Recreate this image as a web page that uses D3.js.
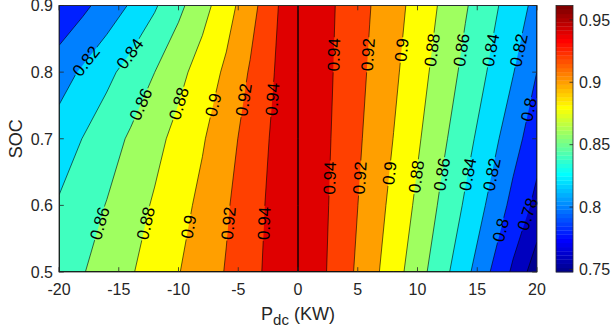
<!DOCTYPE html>
<html>
<head>
<meta charset="utf-8">
<script src="https://cdn.jsdelivr.net/npm/d3@7"></script>
<style>
  body { margin: 0; background: #fff; }
  svg text { font-family: "Liberation Sans", Arial, Helvetica, sans-serif; }
</style>
</head>
<body>
<svg id="chart" width="611" height="333"></svg>
<script>
// grid columns (kW) and rows (SOC)
const pKW = [-20, -18, -16, -14, -12, -10, -8, -6, -4, -2, -0.1, 0, 0.1, 2, 4, 6, 8, 10, 12, 14, 16, 18, 20];
const soc = [0.5, 0.6, 0.7, 0.8, 0.9];

// efficiency, one row per SOC value
const eff05 = [.8495, .8590, .8687, .8783, .8887, .8992, .9101, .9212, .9335, .9469, .958, .9615, .958, .9434, .9260, .9076, .8888, .8685, .8474, .8259, .8009, .7766, .748];
const eff06 = [.8420, .8513, .8608, .8715, .8822, .8932, .9049, .9180, .9313, .9455, .958, .9615, .958, .9446, .9284, .9118, .8944, .8763, .8566, .8375, .8166, .7941, .7744];
const eff07 = [.8290, .8405, .8515, .8626, .8742, .8861, .8982, .9128, .9278, .9432, .958, .9615, .958, .9458, .9305, .9153, .8996, .8826, .8645, .8468, .8285, .8078, .7880];
const eff08 = [.8113, .8229, .8351, .8475, .8599, .8743, .8886, .9036, .9218, .9398, .958, .9615, .958, .9468, .9324, .9182, .9038, .8880, .8715, .8549, .8383, .8208, .7998];
const eff09 = [.7830, .7955, .8084, .8220, .8376, .8552, .8730, .8917, .9125, .9358, .958, .9615, .958, .9476, .9340, .9207, .9073, .8930, .8774, .8619, .8464, .8304, .8140];

const levels = [0.76, 0.78, 0.80, 0.82, 0.84, 0.86, 0.88, 0.90, 0.92, 0.94, 0.96];
const xTicks = [-20, -15, -10, -5, 0, 5, 10, 15, 20];
const yTicks = [0.5, 0.6, 0.7, 0.8, 0.9];
const cbTicks = [0.75, 0.8, 0.85, 0.9, 0.95];

// contour labels: level and rough spot (kW, SOC) where it sits
const labelLevels = [0.82, 0.84, 0.86, 0.88, 0.9, 0.92, 0.94,
                     0.86, 0.88, 0.9, 0.92, 0.94,
                     0.94, 0.92, 0.9, 0.88, 0.86, 0.84, 0.82, 0.8,
                     0.94, 0.92, 0.9, 0.88, 0.86, 0.84, 0.82, 0.8, 0.78];
const labelP = [-17.7, -14.1, -13.2, -10.0, -7.2, -4.4, -2.1,
                -16.6, -12.7, -9.2, -5.7, -2.8,
                3.1, 6.0, 8.8, 11.3, 13.7, 16.1, 18.4, 19.5,
                2.7, 5.3, 7.8, 9.9, 12.2, 14.4, 16.3, 16.9, 19.3];
const labelSOC = [0.816, 0.828, 0.752, 0.753, 0.751, 0.758, 0.759,
                  0.573, 0.573, 0.568, 0.573, 0.573,
                  0.826, 0.826, 0.833, 0.833, 0.833, 0.833, 0.833, 0.743,
                  0.641, 0.641, 0.648, 0.643, 0.646, 0.646, 0.646, 0.563, 0.586];

const plot = {left: 59, right: 537, top: 5.5, bottom: 272};
const cb = {left: 556, right: 573};
const axisColor = '#262626';

const svg = d3.select('#chart');
const grid = [eff05, eff06, eff07, eff08, eff09];
const nx = pKW.length, ny = soc.length;
const values = grid.flat();
const vmin = d3.min(values), vmax = d3.max(values);

const x = d3.scaleLinear().domain([-20, 20]).range([plot.left, plot.right]);
const y = d3.scaleLinear().domain([0.5, 0.9]).range([plot.bottom, plot.top]);
const colIdx = d3.scaleLinear().domain(d3.range(nx)).range(pKW).clamp(true);
const rowIdx = d3.scaleLinear().domain(d3.range(ny)).range(soc).clamp(true);

function jet(t) {
  const c = v => 255 * Math.max(0, Math.min(1, v));
  return d3.rgb(c(1.5 - Math.abs(4 * t - 3)), c(1.5 - Math.abs(4 * t - 2)), c(1.5 - Math.abs(4 * t - 1)));
}
// matlab style: 64 colour map, scaled to data range
function cmap(v) {
  let k = Math.floor((v - vmin) / (vmax - vmin) * 64) + 1;
  k = Math.max(1, Math.min(64, k));
  return jet(k / 64);
}

function pix(pt) {
  return [x(colIdx(pt[0] - 0.5)), y(rowIdx(pt[1] - 0.5))];
}
const proj = d3.geoTransform({
  point(gx, gy) { const p = pix([gx, gy]); this.stream.point(p[0], p[1]); }
});
const path = d3.geoPath(proj);

const contours = d3.contours().size([nx, ny]).thresholds(levels)(values);

const defs = svg.append('defs');
defs.append('clipPath').attr('id', 'clip')
  .append('rect')
  .attr('x', plot.left).attr('y', plot.top)
  .attr('width', plot.right - plot.left).attr('height', plot.bottom - plot.top);
const mask = defs.append('mask').attr('id', 'labelMask')
  .attr('maskUnits', 'userSpaceOnUse')
  .attr('x', 0).attr('y', 0).attr('width', 611).attr('height', 333);
mask.append('rect').attr('width', 611).attr('height', 333).attr('fill', '#fff');

const gPlot = svg.append('g').attr('clip-path', 'url(#clip)');
gPlot.append('rect')
  .attr('x', plot.left).attr('y', plot.top)
  .attr('width', plot.right - plot.left).attr('height', plot.bottom - plot.top)
  .attr('fill', cmap(vmin));

gPlot.append('g').selectAll('path')
  .data(contours)
  .join('path')
  .attr('d', path)
  .attr('fill-rule', 'evenodd')
  .attr('fill', d => cmap(d.value));

gPlot.append('g').attr('mask', 'url(#labelMask)')
  .selectAll('path')
  .data(contours)
  .join('path')
  .attr('d', path)
  .attr('fill', 'none')
  .attr('stroke', '#000')
  .attr('stroke-width', 0.6);

// contour labels, snapped onto the line and turned with it
const gLabels = svg.append('g');
labelLevels.forEach((lv, i) => {
  const c = contours.find(d => Math.abs(d.value - lv) < 1e-9);
  const tx = x(labelP[i]), ty = y(labelSOC[i]);
  let best = null;
  c.coordinates.forEach(poly => poly.forEach(ring => {
    for (let j = 0; j < ring.length - 1; j++) {
      const ga = ring[j], gb = ring[j + 1];
      if ((ga[0] === gb[0] && (ga[0] === 0 || ga[0] === nx)) ||
          (ga[1] === gb[1] && (ga[1] === 0 || ga[1] === ny))) continue;
      const a = pix(ga), b = pix(gb);
      const dx = b[0] - a[0], dy = b[1] - a[1];
      const l2 = dx * dx + dy * dy;
      if (!l2) continue;
      let t = ((tx - a[0]) * dx + (ty - a[1]) * dy) / l2;
      t = Math.max(0, Math.min(1, t));
      const qx = a[0] + t * dx, qy = a[1] + t * dy;
      const d = (qx - tx) ** 2 + (qy - ty) ** 2;
      if (!best || d < best.d) best = {d, qx, qy, dx, dy};
    }
  }));
  let ang = Math.atan2(best.dy, best.dx) * 180 / Math.PI;
  if (ang > 90) ang -= 180;
  if (ang <= -90) ang += 180;
  const tf = `translate(${best.qx},${best.qy}) rotate(${ang})`;
  const txt = gLabels.append('text')
    .attr('transform', tf)
    .attr('text-anchor', 'middle')
    .attr('dy', '0.35em')
    .attr('font-size', 17)
    .attr('fill', '#000')
    .text(String(lv));
  const w = txt.node().getComputedTextLength();
  mask.append('rect')
    .attr('transform', tf)
    .attr('x', -w / 2 - 1).attr('y', -7.5)
    .attr('width', w + 2).attr('height', 15)
    .attr('fill', '#000');
});

// axes box and ticks
const gAxis = svg.append('g').attr('stroke', axisColor).attr('stroke-width', 0.8);
const tl = 4.8;
xTicks.forEach(t => {
  gAxis.append('line').attr('x1', x(t)).attr('x2', x(t)).attr('y1', plot.bottom).attr('y2', plot.bottom - tl);
  gAxis.append('line').attr('x1', x(t)).attr('x2', x(t)).attr('y1', plot.top).attr('y2', plot.top + tl);
});
yTicks.forEach(t => {
  gAxis.append('line').attr('y1', y(t)).attr('y2', y(t)).attr('x1', plot.left).attr('x2', plot.left + tl);
  gAxis.append('line').attr('y1', y(t)).attr('y2', y(t)).attr('x1', plot.right).attr('x2', plot.right - tl);
});
gAxis.append('rect')
  .attr('x', plot.left).attr('y', plot.top)
  .attr('width', plot.right - plot.left).attr('height', plot.bottom - plot.top)
  .attr('fill', 'none');

svg.append('g').selectAll('text')
  .data(xTicks)
  .join('text')
  .attr('x', d => x(d))
  .attr('y', 295)
  .attr('text-anchor', 'middle')
  .attr('font-size', 16)
  .attr('fill', axisColor)
  .text(d => String(d));

svg.append('g').selectAll('text')
  .data(yTicks)
  .join('text')
  .attr('x', 53)
  .attr('y', d => y(d))
  .attr('dy', '0.36em')
  .attr('text-anchor', 'end')
  .attr('font-size', 16)
  .attr('fill', axisColor)
  .text(d => String(d));

// axis titles
const xl = svg.append('text')
  .attr('x', 298).attr('y', 320)
  .attr('text-anchor', 'middle')
  .attr('font-size', 18)
  .attr('fill', axisColor);
xl.append('tspan').text('P');
xl.append('tspan').attr('font-size', 15).attr('dy', 5).text('dc');
xl.append('tspan').attr('dy', -5).text(' (KW)');

svg.append('text')
  .attr('transform', `translate(22,${(plot.top + plot.bottom) / 2}) rotate(-90)`)
  .attr('text-anchor', 'middle')
  .attr('font-size', 18)
  .attr('fill', axisColor)
  .text('SOC');

// colorbar
const cbY = d3.scaleLinear().domain([vmin, vmax]).range([plot.bottom, plot.top]);
const gCb = svg.append('g');
gCb.selectAll('rect')
  .data(d3.range(64))
  .join('rect')
  .attr('x', cb.left)
  .attr('width', cb.right - cb.left)
  .attr('y', k => plot.bottom - (k + 1) / 64 * (plot.bottom - plot.top))
  .attr('height', (plot.bottom - plot.top) / 64 + 0.3)
  .attr('fill', k => jet((k + 1) / 64));
gCb.append('rect')
  .attr('x', cb.left).attr('y', plot.top)
  .attr('width', cb.right - cb.left).attr('height', plot.bottom - plot.top)
  .attr('fill', 'none').attr('stroke', axisColor).attr('stroke-width', 0.8);
cbTicks.forEach(t => {
  gCb.append('line')
    .attr('x1', cb.right).attr('x2', cb.right - 3.5)
    .attr('y1', cbY(t)).attr('y2', cbY(t))
    .attr('stroke', axisColor).attr('stroke-width', 0.8);
  gCb.append('text')
    .attr('x', cb.right + 6).attr('y', cbY(t))
    .attr('dy', '0.36em')
    .attr('font-size', 16)
    .attr('fill', axisColor)
    .text(String(t));
});
</script>
</body>
</html>
